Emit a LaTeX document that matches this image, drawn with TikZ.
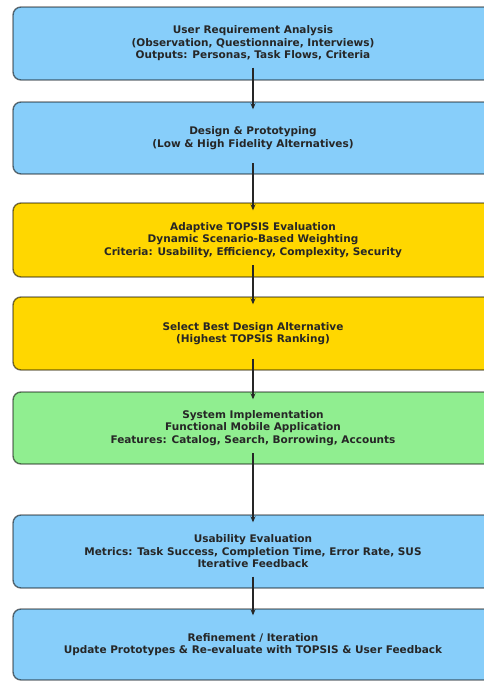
\documentclass[tikz,border=0pt]{standalone}
\usepackage{fontspec}
\setmainfont{DejaVu Sans}
\usetikzlibrary{arrows.meta}
\definecolor{boxblue}{HTML}{87CEFA}
\definecolor{boxgold}{HTML}{FFD700}
\definecolor{boxgreen}{HTML}{90EE90}
\tikzset{
  stage/.style={draw=black, draw opacity=0.55, line width=1.4pt, rounded corners=8pt,
    minimum width=480pt, inner sep=0pt, align=center,
    font=\fontsize{10.5}{12.5}\selectfont\bfseries, text=black!85},
  flow/.style={-{Stealth[length=6pt,width=5pt]}, line width=1.1pt, draw=black!85}
}
\begin{document}
\begin{tikzpicture}[x=1pt,y=-1pt]
\useasboundingbox (0,0) rectangle (484,681);
\clip (0,0) rectangle (484,681);
\fill[white] (0,0) rectangle (484,681);
\node[stage, fill=boxblue, minimum height=73pt] (b1) at (253,43.5)
  {User Requirement Analysis\\(Observation, Questionnaire, Interviews)\\Outputs: Personas, Task Flows, Criteria};
\node[stage, fill=boxblue, minimum height=72pt] (b2) at (253,138)
  {Design \& Prototyping\\(Low \& High Fidelity Alternatives)};
\node[stage, fill=boxgold, minimum height=74pt] (b3) at (253,240)
  {Adaptive TOPSIS Evaluation\\Dynamic Scenario-Based Weighting\\Criteria: Usability, Efficiency, Complexity, Security};
\node[stage, fill=boxgold, minimum height=73pt] (b4) at (253,333.5)
  {Select Best Design Alternative\\(Highest TOPSIS Ranking)};
\node[stage, fill=boxgreen, minimum height=72pt] (b5) at (253,428)
  {System Implementation\\Functional Mobile Application\\Features: Catalog, Search, Borrowing, Accounts};
\node[stage, fill=boxblue, minimum height=73pt] (b6) at (253,551.5)
  {Usability Evaluation\\Metrics: Task Success, Completion Time, Error Rate, SUS\\Iterative Feedback};
\node[stage, fill=boxblue, minimum height=71pt] (b7) at (253,644.5)
  {Refinement / Iteration\\Update Prototypes \& Re-evaluate with TOPSIS \& User Feedback};
\draw[flow] ([yshift=-24pt]b1.center) -- ([yshift=-8pt]b2.north);
\draw[flow] ([yshift=-25pt]b2.center) -- ([yshift=-8pt]b3.north);
\draw[flow] ([yshift=-25pt]b3.center) -- ([yshift=-8pt]b4.north);
\draw[flow] ([yshift=-25pt]b4.center) -- ([yshift=-8pt]b5.north);
\draw[flow] ([yshift=-25pt]b5.center) -- ([yshift=-8pt]b6.north);
\draw[flow] ([yshift=-25pt]b6.center) -- ([yshift=-7pt]b7.north);
\end{tikzpicture}
\end{document}
